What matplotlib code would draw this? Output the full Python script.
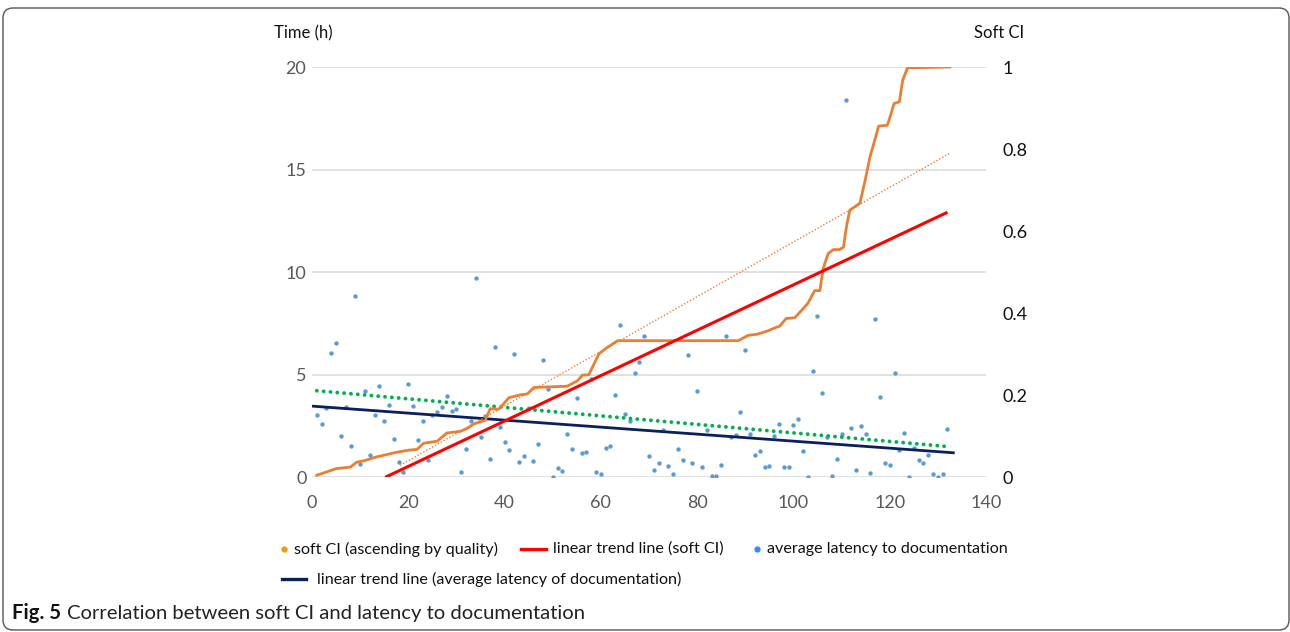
import matplotlib
matplotlib.use("Agg")
import matplotlib.pyplot as plt
from matplotlib.lines import Line2D
from matplotlib.patches import FancyBboxPatch
from matplotlib.transforms import IdentityTransform

# ---------------- data ----------------
latency_x = list(range(1, 133))
latency_y = [3.04, 2.60, 3.40, 6.05, 6.54, 2.03, 3.41, 1.51, 8.83, 0.65,
             4.23, 1.07, 3.02, 4.46, 2.75, 3.51, 1.87, 0.76, 0.28, 4.57,
             3.46, 1.84, 2.72, 0.85, 3.04, 3.19, 3.41, 3.97, 3.24, 3.32,
             0.28, 1.40, 2.76, 9.72, 1.98, 2.99, 0.89, 6.33, 2.44, 1.71,
             1.33, 6.03, 0.75, 1.04, 3.40, 0.81, 1.61, 5.72, 4.28, 0.00,
             0.45, 0.29, 2.10, 1.37, 3.85, 1.17, 1.22, 4.81, 0.28, 0.15,
             1.41, 1.54, 4.02, 7.40, 3.07, 2.73, 5.09, 5.64, 6.89, 1.06,
             0.36, 0.68, 2.31, 0.54, 0.15, 1.38, 0.83, 5.98, 0.70, 4.23,
             0.52, 2.31, 0.07, 0.08, 0.62, 6.89, 1.98, 2.06, 3.17, 6.21,
             2.11, 1.09, 1.30, 0.50, 0.57, 2.00, 2.59, 0.52, 0.52, 2.54,
             2.85, 1.30, 0.00, 5.17, 7.87, 4.13, 1.98, 0.08, 0.91, 2.11,
             18.40, 2.39, 0.34, 2.49, 2.10, 0.20, 7.72, 3.90, 0.68, 0.58,
             5.06, 1.33, 2.15, 0.00, 1.41, 0.86, 0.68, 1.10, 0.15, 0.00,
             0.18, 2.37]

soft_ci_x = [1, 3, 5, 8, 9.3, 10.7, 13.5, 17.6, 20, 21.8, 23.2, 26, 28, 30.8,
             32.2, 33.6, 36, 37, 38.8, 40.9, 43.3, 44.7, 46.1, 53, 55.1, 56.2,
             57.5, 59.6, 61.4, 63.5, 88.5, 90.6, 92.6, 94.7, 96.5, 97.1, 98.5,
             100.3, 101.7, 103, 104.4, 105.5, 106.2, 107.2, 108.3, 109.6,
             110.4, 111, 111.7, 112.7, 113.8, 114.9, 115.9, 117, 117.7, 119.5,
             120.2, 120.9, 122, 122.7, 123.7, 132.5]
soft_ci = [0.005, 0.013, 0.021, 0.025, 0.037, 0.040, 0.050, 0.061, 0.066,
           0.068, 0.083, 0.088, 0.108, 0.112, 0.119, 0.130, 0.139, 0.167,
           0.166, 0.194, 0.201, 0.203, 0.219, 0.222, 0.235, 0.249, 0.250,
           0.301, 0.317, 0.333, 0.333, 0.346, 0.349, 0.357, 0.366, 0.368,
           0.387, 0.389, 0.407, 0.424, 0.455, 0.455, 0.510, 0.545, 0.555,
           0.555, 0.561, 0.610, 0.651, 0.659, 0.668, 0.724, 0.781, 0.826,
           0.856, 0.858, 0.883, 0.911, 0.915, 0.968, 0.998, 1.000]

ci_trend_x = [15.2, 132]
ci_trend_y = [0.0, 0.646]
ci_dotted_x = [18.3, 132.5]
ci_dotted_y = [0.029, 0.79]
lat_trend_x = [0, 133.5]
lat_trend_y = [3.47, 1.19]
lat_dotted_x = [1, 132]
lat_dotted_y = [4.22, 1.50]

left_ticks = [0, 5, 10, 15, 20]
right_ticks = [0, 0.2, 0.4, 0.6, 0.8, 1.0]
right_labels = ["0", "0.2", "0.4", "0.6", "0.8", "1"]
x_ticks = [0, 20, 40, 60, 80, 100, 120, 140]

legend_labels = ["soft CI (ascending by quality)", "linear trend line (soft CI)",
                 "average latency to documentation",
                 "linear trend line (average latency of documentation)"]

# ---------------- style ----------------
plt.rcParams['font.family'] = ['Lato', 'DejaVu Sans']
W, H = 1290, 632
ORANGE = '#ed7d31'
BLUE = '#5b9bd5'
RED = '#ff0000'
NAVY = '#0b1f5c'
GREEN = '#00b050'
GRAY = '#595959'

fig = plt.figure(figsize=(W / 100, H / 100), dpi=100)

def fx(px):
    return px / W

def fy(py):
    return 1 - py / H

ax_left, ax_right, ax_top, ax_bot = 312, 986, 67, 477.3
ax = fig.add_axes([fx(ax_left), fy(ax_bot), (ax_right - ax_left) / W, (ax_bot - ax_top) / H])
ax2 = ax.twinx()

for a in (ax, ax2):
    for s in a.spines.values():
        s.set_visible(False)

ax.set_xlim(0, 140)
ax.set_ylim(0, 20)
ax2.set_ylim(0, 1)
ax.set_xticks(x_ticks)
ax.set_yticks(left_ticks)
ax2.set_yticks(right_ticks)
ax2.set_yticklabels(right_labels)
ax.grid(axis='y', color='#d9d9d9', lw=1.1)
ax.set_axisbelow(True)
ax.tick_params(axis='x', length=0, pad=13, labelsize=13, labelcolor=GRAY)
ax.tick_params(axis='y', length=0, pad=4, labelsize=13, labelcolor=GRAY)
ax2.tick_params(axis='y', length=0, pad=12, labelsize=13, labelcolor='#111111')

# latency series (left axis)
ax.scatter(latency_x, latency_y, s=10, color=BLUE, linewidths=0, zorder=3)
ax.plot(lat_trend_x, lat_trend_y, color=NAVY, lw=2.0, zorder=4, solid_capstyle='butt')
ax.plot(lat_dotted_x, lat_dotted_y, color=GREEN, lw=2.8, zorder=4,
        linestyle=(0, (0.01, 1.75)), dash_capstyle='round')

# soft CI series (right axis)
ax2.plot(soft_ci_x, soft_ci, color=ORANGE, lw=2.0, zorder=3, solid_joinstyle='round')
ax2.plot(ci_dotted_x, ci_dotted_y, color=ORANGE, lw=1.0, linestyle=(0, (1, 1.4)), zorder=3)
ax2.plot(ci_trend_x, ci_trend_y, color=RED, lw=2.2, zorder=4, solid_capstyle='butt')

# axis titles
fig.text(fx(274), fy(33), "Time (h)", fontsize=12, color='#111111', va='center', ha='left')
fig.text(fx(974), fy(33), "Soft CI", fontsize=12, color='#111111', va='center', ha='left')

# legend (manual flow layout)
def leg_line(x0, x1, y, color):
    fig.add_artist(Line2D([fx(x0), fx(x1)], [fy(y), fy(y)], color=color, lw=2.4,
                          transform=fig.transFigure))

def leg_dot(x, y, color):
    fig.add_artist(Line2D([fx(x)], [fy(y)], marker='o', markersize=4.5, color=color,
                          markeredgewidth=0, transform=fig.transFigure))

ly1, ly2 = 549, 579
lfs = 11.6
leg_dot(284, ly1, '#f39c12')
fig.text(fx(294), fy(ly1), legend_labels[0], fontsize=lfs, va='center', ha='left', color='#111111')
leg_line(521, 546, ly1, RED)
fig.text(fx(553), fy(ly1), legend_labels[1], fontsize=lfs, va='center', ha='left', color='#111111')
leg_dot(757, ly1, '#2e8ee8')
fig.text(fx(767), fy(ly1), legend_labels[2], fontsize=lfs, va='center', ha='left', color='#111111')
leg_line(282, 306, ly2, NAVY)
fig.text(fx(317), fy(ly2), legend_labels[3], fontsize=lfs, va='center', ha='left', color='#111111')

# caption
cap_y = 613
t = fig.text(fx(12), fy(cap_y), "Fig. 5", fontsize=14.6, fontweight='bold', va='center', ha='left',
             color='#111111')
fig.canvas.draw()
bb = t.get_window_extent()
fig.text((bb.x1 + 6) / W, fy(cap_y), "Correlation between soft CI and latency to documentation",
         fontsize=14.6, va='center', ha='left', color='#222222')

# border frame
frame = FancyBboxPatch((3, 2), 1286, 622, boxstyle="round,pad=0,rounding_size=10",
                       transform=IdentityTransform(), fill=False, ec='#555555', lw=1.0)
fig.add_artist(frame)

fig.savefig("out.png", dpi=100)
